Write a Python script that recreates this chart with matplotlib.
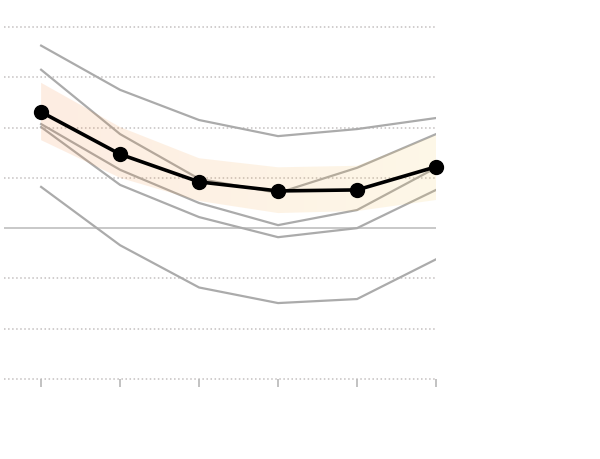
import numpy as np
import matplotlib
matplotlib.use("Agg")
import matplotlib.pyplot as plt

# x positions (six periods, no labels shown)
periods = [0, 1, 2, 3, 4, 5]

# central estimate (black line)
central = [2.31, 1.47, 0.92, 0.74, 0.76, 1.22]

# shaded band around the central estimate
band_hi = [2.89, 2.01, 1.39, 1.21, 1.24, 1.85]
band_lo = [1.75, 1.00, 0.54, 0.30, 0.34, 0.56]

# individual grey series
series_a = [3.63, 2.75, 2.15, 1.83, 1.97, 2.19]
series_b = [3.15, 1.87, 0.98, 0.70, 1.20, 1.87]
series_c = [2.07, 1.16, 0.50, 0.06, 0.36, 1.20]
series_d = [2.01, 0.86, 0.22, -0.18, 0.00, 0.76]
series_e = [0.82, -0.34, -1.18, -1.49, -1.41, -0.62]
grey_series = [series_a, series_b, series_c, series_d, series_e]

grid_levels = [-3, -2, -1, 1, 2, 3, 4]

fig = plt.figure(figsize=(6, 4.6), dpi=100)
ax = fig.add_axes([4 / 600, 80 / 460, 432 / 600, 352 / 460])
ax.set_xlim(-0.47, 5)
ax.set_ylim(-3, 4)

for lev in grid_levels:
    ax.axhline(lev, color="#c4c0c0", linestyle=":", linewidth=1.1,
               zorder=1, clip_on=False)
ax.axhline(0, color="#c8c8c8", linewidth=1.4, zorder=1)

for s in grey_series:
    ax.plot(periods, s, color="#ababab", linewidth=1.6, zorder=2,
            solid_joinstyle="miter")

# band with a left-to-right peach -> cream gradient, drawn over the grey lines
poly = ax.fill_between(periods, band_lo, band_hi, color="none",
                       linewidth=0, zorder=3)
grad = np.linspace(0, 1, 256)
left = np.array([242, 125, 45]) / 255
right = np.array([245, 200, 85]) / 255
rgba = np.zeros((1, 256, 4))
rgba[0, :, :3] = left[None, :] * (1 - grad[:, None]) + right[None, :] * grad[:, None]
rgba[0, :, 3] = 0.14
im = ax.imshow(rgba, extent=[0, 5, -3, 4], aspect="auto",
               origin="lower", zorder=3, interpolation="bilinear")
im.set_clip_path(poly.get_paths()[0], transform=ax.transData)

ax.plot(periods, central, color="black", linewidth=2.6, marker="o",
        markersize=10, zorder=5, clip_on=False)

for sp in ax.spines.values():
    sp.set_visible(False)
ax.set_yticks([])
ax.set_xticks(periods)
ax.set_xticklabels([])
ax.tick_params(axis="x", direction="out", length=6, width=1.3,
               color="#bdbdbd")

plt.savefig("out.png", dpi=100)
